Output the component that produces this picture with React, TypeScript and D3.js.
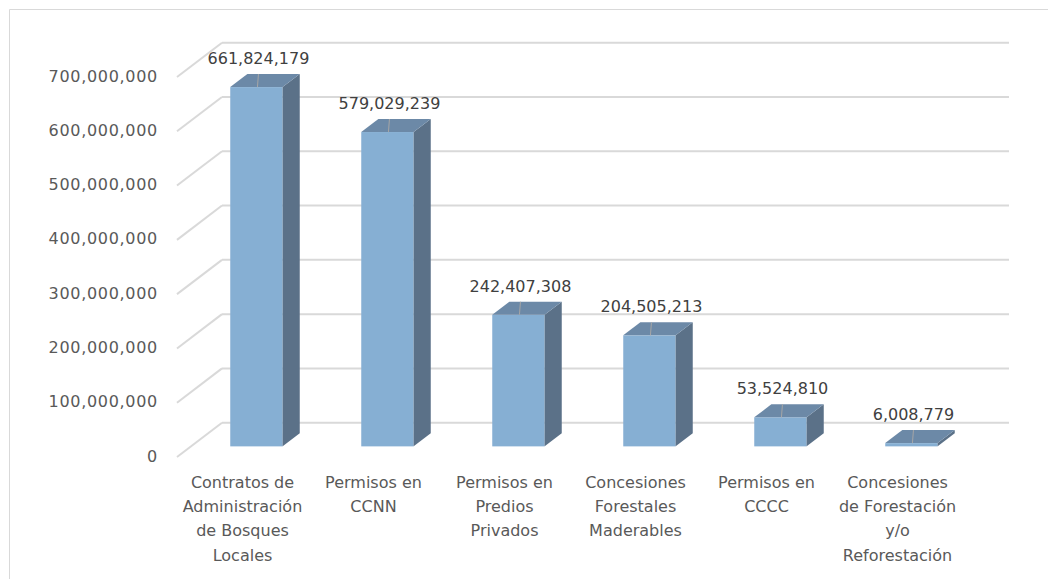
import React from 'react';
import * as d3 from 'd3';

const categories = [
  ['Contratos de', 'Administración', 'de Bosques', 'Locales'],
  ['Permisos en', 'CCNN'],
  ['Permisos en', 'Predios', 'Privados'],
  ['Concesiones', 'Forestales', 'Maderables'],
  ['Permisos en', 'CCCC'],
  ['Concesiones', 'de Forestación', 'y/o', 'Reforestación'],
];
const values = [661824179, 579029239, 242407308, 204505213, 53524810, 6008779];
const yTicks = [0, 100e6, 200e6, 300e6, 400e6, 500e6, 600e6, 700e6];

const W = 1048;
const H = 579;
// 3D depth offset of the floor / walls
const DX = 45;
const DY = -34.3;
const F1 = 0.31; // bar front plane (fraction of depth)
const F2 = 0.69; // bar back plane

const FONT = '"DejaVu Sans", Verdana, sans-serif';

export default function App() {
  const keys = categories.map((_, i) => String(i));
  const x = d3.scaleBand<string>().domain(keys).range([177, 963]);
  const y = d3.scaleLinear().domain([0, 700e6]).range([457, 77]);
  const fmt = d3.format(',');
  const barW = x.bandwidth() * 0.4;
  const grid = '#d9d9d9';

  return (
    <svg
      width={W}
      height={H}
      style={{ position: 'absolute', left: 0, top: 0, background: '#fff' }}
      fontFamily={FONT}
    >
      {/* chart border */}
      <path d={`M9.5,${H} V9.5 H${W}`} fill="none" stroke={grid} strokeWidth={1} />

      {/* walls grid */}
      {yTicks.map((t) => (
        <g key={t}>
          <line
            x1={x.range()[0]}
            y1={y(t)}
            x2={x.range()[0] + DX}
            y2={y(t) + DY}
            stroke={grid}
            strokeWidth={2}
          />
          <line
            x1={x.range()[0] + DX}
            y1={y(t) + DY}
            x2={x.range()[1] + DX + 1}
            y2={y(t) + DY}
            stroke={grid}
            strokeWidth={2}
          />
          <text
            x={158}
            y={y(t)}
            textAnchor="end"
            dominantBaseline="middle"
            fontSize={16}
            letterSpacing={0.7}
            fill="#595959"
          >
            {fmt(t)}
          </text>
        </g>
      ))}

      {/* bars */}
      {values.map((v, i) => {
        const cx = x(keys[i])! + x.bandwidth() / 2;
        const x0 = cx - barW / 2 + F1 * DX;
        const x1 = x0 + barW;
        const yTop = y(v) + F1 * DY;
        const yBot = y(0) + F1 * DY;
        const ddx = (F2 - F1) * DX;
        const ddy = (F2 - F1) * DY;
        const frontCx = (x0 + x1) / 2;
        const labelX = frontCx + 2;
        const labelY = yTop + ddy - 10;
        return (
          <g key={i}>
            <rect x={x0} y={yTop} width={barW} height={yBot - yTop} fill="#86AFD3" />
            <polygon
              points={`${x1},${yTop} ${x1 + ddx},${yTop + ddy} ${x1 + ddx},${yBot + ddy} ${x1},${yBot}`}
              fill="#5B7188"
            />
            <polygon
              points={`${x0},${yTop} ${x1},${yTop} ${x1 + ddx},${yTop + ddy} ${x0 + ddx},${yTop + ddy}`}
              fill="#6C89A7"
            />
            <line
              x1={labelX}
              y1={labelY + 10}
              x2={frontCx + 1}
              y2={yTop}
              stroke="#a6a6a6"
              strokeWidth={1}
            />
            <text x={labelX} y={labelY} textAnchor="middle" fontSize={16} fill="#404040">
              {fmt(v)}
            </text>
          </g>
        );
      })}

      {/* category labels */}
      {categories.map((lines, i) => (
        <text
          key={i}
          x={x(keys[i])! + x.bandwidth() / 2}
          y={482}
          textAnchor="middle"
          fontSize={16}
          fill="#595959"
        >
          {lines.map((l, j) => (
            <tspan key={j} x={x(keys[i])! + x.bandwidth() / 2} dy={j === 0 ? '0.35em' : 24.4}>
              {l}
            </tspan>
          ))}
        </text>
      ))}
    </svg>
  );
}
